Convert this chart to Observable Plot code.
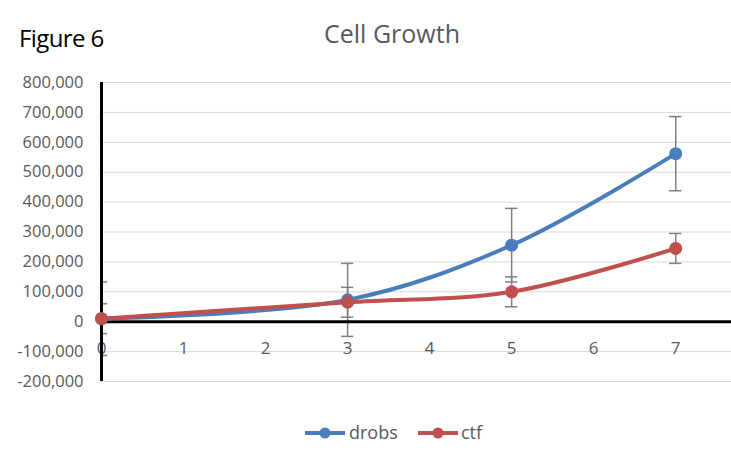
<!DOCTYPE html>
<html>
<head>
<meta charset="utf-8">
<script src="https://cdn.jsdelivr.net/npm/d3@7"></script>
<script src="https://cdn.jsdelivr.net/npm/@observablehq/plot@0.6"></script>
<style>
  body { margin: 0; background: #fff; }
  #wrap { position: relative; width: 731px; height: 450px; overflow: hidden; font-family: "Open Sans", sans-serif; }
  #fig { position: absolute; left: 19px; top: 21px; font-size: 24px; color: #000; font-family: "Open Sans", sans-serif; letter-spacing: -0.6px; }
  #title { position: absolute; left: 0; width: 784px; top: 16px; text-align: center; font-size: 25px; color: #595959; }
  #chart { position: absolute; left: 0; top: 0; }
  #legend { position: absolute; top: 421px; left: 0; width: 731px; height: 24px; }
</style>
</head>
<body>
<div id="wrap">
  <div id="chart"></div>
  <div id="fig">Figure 6</div>
  <div id="title">Cell Growth</div>
  <div id="legend"></div>
</div>
<script>
const days = [0, 3, 5, 7];
const drobs = [10000, 73000, 256000, 562000];
const drobsErr = [123000, 122000, 123000, 124000];
const ctf = [10000, 65000, 100000, 245000];
const ctfErr = [50000, 50000, 50000, 50000];
const xTicks = [0, 1, 2, 3, 4, 5, 6, 7];
const yTicks = [-200000, -100000, 0, 100000, 200000, 300000, 400000, 500000, 600000, 700000, 800000];
const seriesNames = ["drobs", "ctf"];
const colors = ["#4a7ebb", "#c0504d"];

const rows = [];
days.forEach((d, i) => {
  rows.push({series: "drobs", x: d, y: drobs[i], e: drobsErr[i]});
});
days.forEach((d, i) => {
  rows.push({series: "ctf", x: d, y: ctf[i], e: ctfErr[i]});
});

const fmt = v => d3.format(",")(v).replace("\u2212", "-");
const capW = 0.075;

const plot = Plot.plot({
  width: 731,
  height: 450,
  marginLeft: 101,
  marginRight: 0,
  marginTop: 82,
  marginBottom: 69,
  style: {fontFamily: "Open Sans, sans-serif", background: "transparent", overflow: "visible"},
  x: {domain: [0, 7.68], axis: null},
  y: {domain: [-200000, 800000], axis: null},
  color: {domain: seriesNames, range: colors},
  marks: [
    Plot.ruleY(yTicks, {x1: 0, x2: 7.68, stroke: "#d9d9d9", strokeWidth: 1}),
    Plot.axisY(yTicks, {tickSize: 0, tickPadding: 18, tickFormat: fmt, fontSize: 16.5, fill: "#595959", label: null}),
    Plot.text(xTicks, {x: d => d, y: 0, dy: 27, text: d => String(d), fontSize: 17, fill: "#595959"}),
    Plot.ruleX(rows, {x: "x", y1: d => d.y - d.e, y2: d => d.y + d.e, stroke: "#7f7f7f", strokeWidth: 1.5}),
    Plot.ruleY(rows, {y: d => d.y + d.e, x1: d => d.x - capW, x2: d => d.x + capW, stroke: "#7f7f7f", strokeWidth: 1.5, clip: true}),
    Plot.ruleY(rows, {y: d => d.y - d.e, x1: d => d.x - capW, x2: d => d.x + capW, stroke: "#7f7f7f", strokeWidth: 1.5, clip: true}),
    Plot.ruleY([0], {x1: 0, x2: 7.68, stroke: "#000", strokeWidth: 3}),
    Plot.ruleX([0], {y1: -200000, y2: 800000, stroke: "#000", strokeWidth: 3}),
    Plot.line(rows, {x: "x", y: "y", z: "series", stroke: "series", strokeWidth: 4, curve: "catmull-rom"}),
    Plot.dot(rows, {x: "x", y: "y", fill: "series", r: 6.5})
  ]
});
document.getElementById("chart").appendChild(plot);

// legend
const leg = d3.select("#legend").append("svg").attr("width", 731).attr("height", 24);
const items = [{name: "drobs", x0: 305, tx: 349}, {name: "ctf", x0: 418, tx: 461}];
items.forEach((it, i) => {
  leg.append("line").attr("x1", it.x0).attr("x2", it.x0 + 40).attr("y1", 12).attr("y2", 12)
    .attr("stroke", colors[i]).attr("stroke-width", 4);
  leg.append("circle").attr("cx", it.x0 + 20).attr("cy", 12).attr("r", 5.5).attr("fill", colors[i]);
  leg.append("text").attr("x", it.tx).attr("y", 18).attr("font-size", 18)
    .attr("font-family", "Open Sans, sans-serif").attr("fill", "#595959").text(seriesNames[i]);
});
</script>
</body>
</html>
